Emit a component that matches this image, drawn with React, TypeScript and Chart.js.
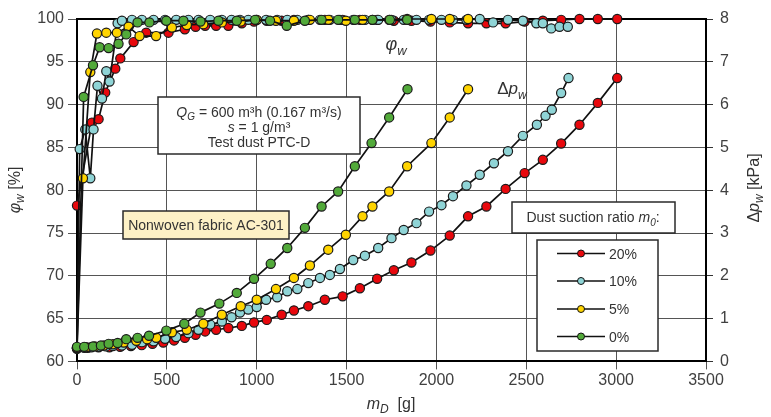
import React, { useEffect, useRef } from "react";
import { Chart, registerables } from "chart.js";
Chart.register(...registerables);

// ---------- data ----------
const seriesLabels = ["20%", "10%", "5%", "0%"];
const seriesColors = ["#e8080d", "#8fd4d6", "#ffd400", "#52aa3a"];

// pressure drop Δp_w [kPa] vs dust mass m_D [g]
const redDpMass = [0, 60, 120, 180, 240, 300, 360, 420, 480, 540, 600, 660, 713, 774, 842, 917, 985, 1056, 1139, 1207, 1287, 1379, 1478, 1574, 1670, 1763, 1861, 1967, 2074, 2176, 2278, 2385, 2491, 2592, 2694, 2796, 2898, 3006];
const redDp = [0.32, 0.32, 0.33, 0.33, 0.34, 0.36, 0.38, 0.41, 0.44, 0.49, 0.55, 0.62, 0.70, 0.74, 0.78, 0.83, 0.91, 0.97, 1.09, 1.19, 1.29, 1.44, 1.52, 1.71, 1.93, 2.13, 2.31, 2.59, 2.94, 3.39, 3.62, 4.03, 4.40, 4.71, 5.09, 5.53, 6.04, 6.62];

const cyanDpMass = [0, 40, 80, 120, 160, 200, 250, 306, 361, 426, 490, 552, 620, 676, 741, 806, 860, 907, 953, 1000, 1052, 1114, 1170, 1226, 1287, 1352, 1407, 1463, 1537, 1602, 1676, 1750, 1818, 1889, 1959, 2028, 2092, 2167, 2241, 2320, 2398, 2481, 2559, 2607, 2642, 2694, 2735];
const cyanDp = [0.32, 0.32, 0.33, 0.34, 0.35, 0.36, 0.37, 0.39, 0.45, 0.47, 0.53, 0.57, 0.66, 0.74, 0.86, 0.93, 1.03, 1.14, 1.21, 1.27, 1.44, 1.50, 1.64, 1.69, 1.83, 1.95, 2.02, 2.16, 2.37, 2.47, 2.65, 2.88, 3.07, 3.23, 3.50, 3.65, 3.86, 4.11, 4.36, 4.63, 4.91, 5.27, 5.53, 5.74, 5.88, 6.27, 6.62];

const yellowDpMass = [0, 50, 100, 150, 200, 260, 330, 390, 441, 528, 611, 703, 806, 911, 1000, 1107, 1207, 1296, 1398, 1496, 1589, 1644, 1737, 1837, 1972, 2074, 2176];
const yellowDp = [0.32, 0.33, 0.35, 0.37, 0.40, 0.44, 0.48, 0.52, 0.55, 0.68, 0.74, 0.88, 1.09, 1.29, 1.44, 1.69, 1.95, 2.24, 2.61, 2.96, 3.39, 3.62, 3.97, 4.56, 5.10, 5.70, 6.36];

const greenDpMass = [0, 40, 89, 133, 176, 226, 274, 337, 401, 497, 597, 687, 792, 889, 985, 1078, 1170, 1268, 1361, 1453, 1546, 1639, 1737, 1839];
const greenDp = [0.34, 0.34, 0.35, 0.37, 0.41, 0.43, 0.52, 0.55, 0.60, 0.72, 0.88, 1.14, 1.35, 1.60, 1.93, 2.28, 2.65, 3.12, 3.62, 3.97, 4.56, 5.10, 5.70, 6.36];

// separation efficiency φ_w [%] vs dust mass m_D [g]
const redPhiMass = [0, 83, 120, 157, 213, 241, 315, 385, 509, 600, 660, 713, 774, 842, 917, 985, 1056, 1139, 1207, 1287, 1379, 1478, 1574, 1670, 1763, 1861, 1967, 2074, 2176, 2278, 2385, 2491, 2592, 2694, 2796, 2898, 3006];
const redPhi = [78.2, 87.9, 88.3, 91.4, 94.2, 95.4, 97.3, 98.4, 98.4, 98.8, 99.1, 99.2, 99.2, 99.2, 99.5, 99.7, 99.8, 99.8, 99.9, 99.9, 99.9, 99.9, 99.9, 99.9, 99.8, 99.8, 99.7, 99.6, 99.5, 99.5, 99.5, 99.7, 99.8, 99.9, 100, 100, 100];

const cyanPhiMass = [0, 15, 46, 74, 92, 114, 139, 163, 181, 226, 250, 306, 361, 426, 490, 552, 620, 676, 741, 806, 860, 907, 953, 1000, 1052, 1114, 1170, 1226, 1287, 1352, 1407, 1463, 1537, 1602, 1676, 1750, 1818, 1889, 1959, 2028, 2092, 2167, 2241, 2315, 2398, 2481, 2556, 2592, 2639, 2685, 2731];
const cyanPhi = [61.5, 84.8, 87.1, 81.4, 87.1, 92.2, 90.7, 93.9, 92.7, 99.5, 99.8, 99.9, 99.9, 99.9, 99.9, 99.9, 99.9, 99.9, 99.9, 99.9, 99.9, 99.9, 99.9, 99.9, 99.9, 99.9, 99.9, 99.9, 99.9, 99.9, 99.9, 99.9, 99.9, 99.9, 99.9, 99.9, 99.9, 99.9, 99.9, 99.9, 99.9, 99.9, 100.0, 99.6, 99.9, 99.8, 99.5, 99.5, 98.9, 99.1, 99.1];

const yellowPhiMass = [0, 33, 74, 111, 163, 222, 287, 348, 440, 528, 611, 703, 806, 911, 1000, 1107, 1207, 1296, 1398, 1496, 1589, 1644, 1737, 1837, 1972, 2074, 2176];
const yellowPhi = [61.5, 81.4, 93.8, 98.3, 98.4, 98.4, 99.1, 98.0, 98.0, 99.0, 99.3, 99.4, 99.6, 99.7, 99.9, 99.8, 99.8, 99.9, 99.9, 99.8, 99.9, 99.9, 99.9, 100, 100, 100, 100];

const greenPhiMass = [0, 37, 89, 126, 176, 231, 274, 337, 403, 497, 592, 687, 787, 889, 991, 1074, 1167, 1268, 1361, 1453, 1546, 1644, 1741, 1837];
const greenPhi = [61.5, 90.9, 94.6, 96.7, 96.6, 97.1, 98.2, 99.6, 99.6, 99.8, 99.8, 99.7, 99.8, 99.8, 99.9, 99.8, 99.2, 99.8, 99.9, 99.9, 99.9, 99.9, 99.9, 99.9];

const xMin = 0, xMax = 3500, xStep = 500;
const phiMin = 60, phiMax = 100, phiStep = 5;
const dpMin = 0, dpMax = 8, dpStep = 1;

// ---------- helpers ----------
const FAMILY = '"Liberation Sans", Arial, sans-serif';
type Seg = { t: string; it?: boolean; sub?: boolean };

function segFont(s: Seg, base: number) {
  const sz = s.sub ? Math.round(base * 0.72) : base;
  return `${s.it ? "italic " : ""}${sz}px ${FAMILY}`;
}
function richWidth(ctx: CanvasRenderingContext2D, segs: Seg[], base: number) {
  let w = 0;
  for (const s of segs) {
    ctx.font = segFont(s, base);
    w += ctx.measureText(s.t).width;
  }
  return w;
}
function drawRich(ctx: CanvasRenderingContext2D, segs: Seg[], x: number, y: number, base: number, align: "center" | "left" = "center") {
  const w = richWidth(ctx, segs, base);
  let cx = align === "center" ? x - w / 2 : x;
  ctx.textAlign = "left";
  ctx.textBaseline = "alphabetic";
  for (const s of segs) {
    ctx.font = segFont(s, base);
    ctx.fillText(s.t, cx, y + (s.sub ? base * 0.28 : 0));
    cx += ctx.measureText(s.t).width;
  }
}
function box(ctx: CanvasRenderingContext2D, l: number, t: number, r: number, b: number, fill: string) {
  ctx.fillStyle = fill;
  ctx.fillRect(l, t, r - l, b - t);
  ctx.strokeStyle = "#2a2a2a";
  ctx.lineWidth = 1.5;
  ctx.strokeRect(l, t, r - l, b - t);
}

const annotPlugin = {
  id: "annot",
  beforeDatasetsDraw(chart: any) {
    const { ctx, chartArea } = chart;
    ctx.save();
    ctx.strokeStyle = "#000";
    ctx.lineWidth = 2;
    ctx.beginPath();
    ctx.moveTo(chartArea.left, chartArea.top);
    ctx.lineTo(chartArea.right, chartArea.top);
    ctx.stroke();
    ctx.restore();
  },
  afterDraw(chart: any) {
    const { ctx } = chart;
    ctx.save();
    const txt = "#333";
    // condition box
    box(ctx, 158, 97, 360, 154, "#fff");
    ctx.fillStyle = txt;
    drawRich(ctx, [{ t: "Q", it: true }, { t: "G", it: true, sub: true }, { t: " = 600 m³h (0.167 m³/s)" }], 259, 116.5, 14);
    drawRich(ctx, [{ t: "s", it: true }, { t: " = 1 g/m³" }], 259, 131.5, 14);
    drawRich(ctx, [{ t: "Test dust PTC-D" }], 259, 146.5, 14);
    // fabric box
    box(ctx, 123, 211, 289, 239, "#fdf1c6");
    ctx.fillStyle = txt;
    drawRich(ctx, [{ t: "Nonwoven fabric AC-301" }], 206, 230, 14);
    // suction ratio header
    box(ctx, 512, 202, 675, 233, "#fff");
    ctx.fillStyle = txt;
    drawRich(ctx, [{ t: "Dust suction ratio " }, { t: "m", it: true }, { t: "0", it: true, sub: true }, { t: ":" }], 593, 222, 14);
    // legend
    box(ctx, 537, 240, 658, 351, "#fff");
    const ys = [253.5, 281, 309, 336.5];
    seriesLabels.forEach((lab, i) => {
      const y = ys[i];
      ctx.strokeStyle = "#111";
      ctx.lineWidth = 1.6;
      ctx.beginPath();
      ctx.moveTo(557, y);
      ctx.lineTo(605, y);
      ctx.stroke();
      ctx.beginPath();
      ctx.arc(581, y, 3.5, 0, Math.PI * 2);
      ctx.fillStyle = seriesColors[i];
      ctx.fill();
      ctx.lineWidth = 1;
      ctx.stroke();
      ctx.fillStyle = txt;
      drawRich(ctx, [{ t: lab }], 609, y + 5, 14, "left");
    });
    // curve labels
    ctx.fillStyle = txt;
    drawRich(ctx, [{ t: "φ", it: true }, { t: "w", it: true, sub: true }], 396, 50, 18);
    drawRich(ctx, [{ t: "Δ" }, { t: "p", it: true }, { t: "w", it: true, sub: true }], 512, 94, 17);
    // axis titles
    ctx.fillStyle = "#333";
    drawRich(ctx, [{ t: "m", it: true }, { t: "D", it: true, sub: true }, { t: "  [g]" }], 391, 409, 16);
    ctx.save();
    ctx.translate(20, 190);
    ctx.rotate(-Math.PI / 2);
    drawRich(ctx, [{ t: "φ", it: true }, { t: "w", it: true, sub: true }, { t: " [%]" }], 0, 0, 16);
    ctx.restore();
    ctx.save();
    ctx.translate(759, 188);
    ctx.rotate(-Math.PI / 2);
    drawRich(ctx, [{ t: "Δ" }, { t: "p", it: true }, { t: "w", it: true, sub: true }, { t: " [kPa]" }], 0, 0, 16);
    ctx.restore();
    ctx.restore();
  },
};

function pts(xs: number[], ys: number[]) {
  return xs.map((x, i) => ({ x, y: ys[i] }));
}

export default function App() {
  const ref = useRef<HTMLCanvasElement | null>(null);
  useEffect(() => {
    if (!ref.current) return;
    const phiSets = [
      [greenPhiMass, greenPhi, 3],
      [yellowPhiMass, yellowPhi, 2],
      [cyanPhiMass, cyanPhi, 1],
      [redPhiMass, redPhi, 0],
    ] as [number[], number[], number][];
    const dpSets = [
      [greenDpMass, greenDp, 3],
      [yellowDpMass, yellowDp, 2],
      [cyanDpMass, cyanDp, 1],
      [redDpMass, redDp, 0],
    ] as [number[], number[], number][];
    const mk = (xs: number[], ys: number[], ci: number, axis: string, order: number) => ({
      label: seriesLabels[ci] + (axis === "y" ? " φ" : " Δp"),
      data: pts(xs, ys),
      yAxisID: axis,
      showLine: true,
      borderColor: "#111",
      borderWidth: 1.7,
      pointRadius: 4.6,
      pointBorderWidth: 1.2,
      pointBorderColor: "#1a1a1a",
      pointBackgroundColor: seriesColors[ci],
      clip: false as any,
      order,
    });
    const datasets: any[] = [];
    dpSets.forEach(([xs, ys, ci], k) => datasets.push(mk(xs, ys, ci, "y1", k)));
    phiSets.forEach(([xs, ys, ci], k) => datasets.push(mk(xs, ys, ci, "y", 4 + k)));

    const tickFont = { family: FAMILY, size: 16 };
    const fmt = (v: any) => String(v);
    const chart = new Chart(ref.current, {
      type: "scatter",
      data: { datasets },
      plugins: [annotPlugin],
      options: {
        animation: false,
        responsive: true,
        maintainAspectRatio: false,
        layout: { padding: { top: 19, left: 0, right: 0, bottom: 0 } },
        plugins: { legend: { display: false }, tooltip: { enabled: false } },
        scales: {
          x: {
            type: "linear",
            min: xMin,
            max: xMax,
            ticks: { stepSize: xStep, font: tickFont, color: "#404040", padding: 2, callback: fmt },
            grid: { color: "#555", lineWidth: 1, tickLength: 8 },
            border: { color: "#000", width: 2 },
            afterFit: (s: any) => { s.height = 55.6; },
          },
          y: {
            type: "linear",
            position: "left",
            min: phiMin,
            max: phiMax,
            ticks: { stepSize: phiStep, font: tickFont, color: "#404040", padding: 4, callback: fmt },
            grid: { color: "#555", lineWidth: 1, tickLength: 9 },
            border: { color: "#000", width: 2 },
            afterFit: (s: any) => { s.width = 77; },
          },
          y1: {
            type: "linear",
            position: "right",
            min: dpMin,
            max: dpMax,
            ticks: { stepSize: dpStep, font: tickFont, color: "#404040", padding: 7, callback: fmt },
            grid: { drawOnChartArea: false, color: "#333", tickLength: 7 },
            border: { color: "#000", width: 2 },
            afterFit: (s: any) => { s.width = 65; },
          },
        },
      } as any,
    });
    return () => chart.destroy();
  }, []);
  return (
    <div style={{ position: "absolute", left: 0, top: 0, width: 771, height: 417, background: "#fff" }}>
      <canvas ref={ref} />
    </div>
  );
}
